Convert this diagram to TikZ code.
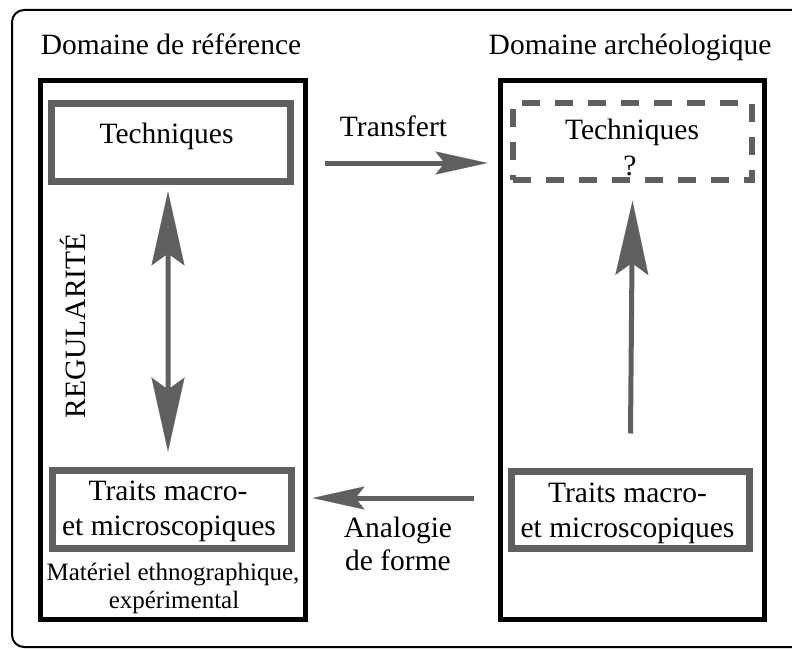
\documentclass[tikz,border=0pt]{standalone}
\usepackage{fontspec}
\setmainfont{Liberation Serif}
\newfontfamily\tnr{Liberation Serif}
\usetikzlibrary{arrows.meta,calc}
\definecolor{boxgray}{RGB}{95,95,95}
\begin{document}
\begin{tikzpicture}[x=1bp,y=-1bp,
  outerframe/.style={draw=black, line width=2bp, rounded corners=12bp},
  domainbox/.style={draw=black, line width=5bp, rectangle, inner sep=0pt},
  graybox/.style={draw=boxgray, line width=7bp, rectangle, inner sep=0pt},
  dashbox/.style={draw=boxgray, line width=6bp, rectangle, inner sep=0pt, dash pattern=on 18bp off 15bp},
  txt/.style={font=\tnr\fontsize{29.5bp}{35bp}\selectfont, anchor=base, inner sep=0pt},
  smalltxt/.style={font=\tnr\fontsize{25bp}{30bp}\selectfont, anchor=base, inner sep=0pt},
  uparrow/.style={draw=boxgray, line width=5bp, -{Stealth[length=74bp,width=33bp,inset=12bp,line width=0.1bp]}},
  duparrow/.style={draw=boxgray, line width=5bp, {Stealth[length=74bp,width=33bp,inset=12bp,line width=0.1bp]}-{Stealth[length=74bp,width=33bp,inset=12bp,line width=0.1bp]}},
  sidearrow/.style={draw=boxgray, line width=5bp, -{Stealth[length=52bp,width=23bp,inset=9bp,line width=0.1bp]}}
]
\useasboundingbox (0,0) rectangle (792,649);
\clip (0,0) rectangle (792,649);
\draw[outerframe] (12,10) rectangle (840,647);

% domain boxes
\node[domainbox, minimum width=265bp, minimum height=539bp] (lbox) at (173,350) {};
\node[domainbox, minimum width=264bp, minimum height=539bp] (rbox) at (632.5,350) {};

% inner boxes
\node[graybox, minimum width=239bp, minimum height=78bp] (ltech) at (171,142.5) {};
\node[graybox, minimum width=239bp, minimum height=78bp] (ltraits) at (172,509.5) {};
\node[dashbox, minimum width=239bp, minimum height=77bp] (rtech) at (632.5,141.5) {};
\node[graybox, minimum width=238bp, minimum height=77bp] (rtraits) at (630.5,510) {};

% titles
\node[txt] (ltitle) at (171,55) {Domaine de référence};
\node[txt] (rtitle) at (630,55) {Domaine archéologique};

% texts in boxes
\node[txt] (ltechtxt) at (166.5,144) {Techniques};
\node[txt] (rtechtxt) at (632,140) {Techniques};
\node[txt] (rtechq) at (630,175) {?};
\node[txt] (ltr1) at (168,500) {Traits macro-};
\node[txt] (ltr2) at (169,535) {et microscopiques};
\node[txt] (rtr1) at (627.5,502) {Traits macro-};
\node[txt] (rtr2) at (627.5,537) {et microscopiques};
\node[smalltxt] (mat1) at (173,580) {Matériel ethnographique,};
\node[smalltxt] (mat2) at (174,608) {expérimental};

% side labels
\node[txt, rotate=90] (reg) at (85,326) {REGULARITÉ};
\node[txt] (transf) at (393.5,137) {Transfert};
\node[txt] (anal1) at (398,537) {Analogie};
\node[txt] (anal2) at (398,570) {de forme};

% connectors
\draw[duparrow] ([xshift=-3bp,yshift=-6.5bp]ltech.south) -- ([xshift=-4bp,yshift=15.5bp]ltraits.north);
\draw[uparrow] ([yshift=34.5bp]rtraits.north) -- ([yshift=-18bp]rtech.south);
\coordinate (t1) at ($(lbox.east |- 0,163)+(16.5,0)$);
\coordinate (t2) at ($(rbox.west |- 0,163)+(-10.5,0)$);
\draw[sidearrow] (t1) -- (t2);
\coordinate (a1) at ($(rtraits.west)+(-34.5,-12)$);
\coordinate (a2) at ($(lbox.east |- a1)+(4.5,0)$);
\draw[sidearrow] (a1) -- (a2);
\end{tikzpicture}
\end{document}
